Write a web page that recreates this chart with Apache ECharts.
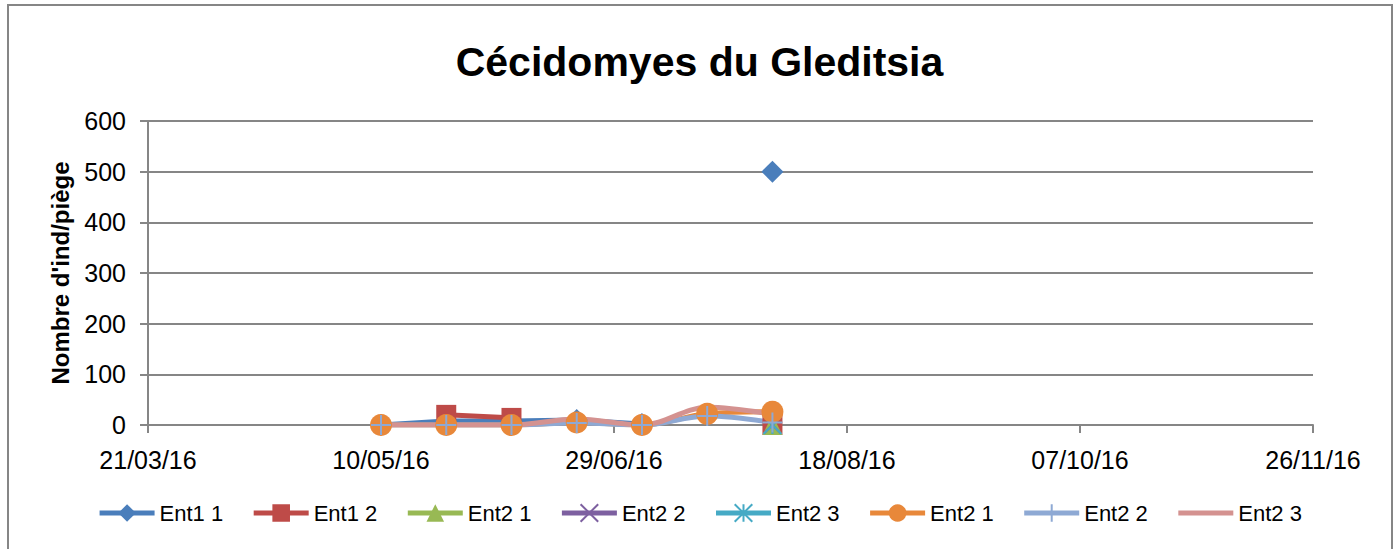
<!DOCTYPE html>
<html><head><meta charset="utf-8">
<script src="https://cdn.jsdelivr.net/npm/echarts@6/dist/echarts.min.js"></script>
<style>html,body{margin:0;padding:0;background:#fff}#c{width:1399px;height:549px}</style>
</head><body><div id="c"></div>
<script>
// ---- data ----
const title = 'Cécidomyes du Gleditsia';
const yAxisName = "Nombre d'ind/piège";
const axisStart = '21/03/16';
const axisEnd = '26/11/16';
const dates = ['10/05/16','24/05/16','07/06/16','21/06/16','05/07/16','19/07/16','02/08/16'];
const seriesNames = ['Ent1 1','Ent1 2','Ent2 1','Ent2 2','Ent2 3','Ent2 1','Ent2 2','Ent2 3'];
const ent1_1 = [0, 8, 8, 10, 2, null, 500];
const ent1_2 = [null, 20, 14, null, null, null, 0];
const ent2_1a = [null, null, null, null, null, null, 0];
const ent2_2a = [null, null, null, null, null, null, 0];
const ent2_3a = [null, null, null, null, null, null, 0];
const ent2_1b = [0, 0, 0, 5, 0, 22, 26];
const ent2_2b = [0, 0, 0, 4, 0, 18, 5];
const ent2_3b = [0, 0, 0, 12, 0, 35, 21];
const yTicks = [0, 100, 200, 300, 400, 500, 600];

// ---- helpers ----
function parseD(s){const [d,m,y]=s.split('/').map(Number);return Date.UTC(2000+y,m-1,d);}
const DAY = 86400000;
const base = parseD(axisStart);
const off = s => Math.round((parseD(s)-base)/DAY);
function fmt(v){const d=new Date(base+v*DAY);const p=n=>String(n).padStart(2,'0');return p(d.getUTCDate())+'/'+p(d.getUTCMonth()+1)+'/'+p(d.getUTCFullYear()%100);}
const xs = dates.map(off);
const pts = arr => arr.map((v,i)=>[xs[i], v]);

const colors = ['#4A7EBB','#BE4B48','#98B954','#7D60A0','#46AAC5','#E8883A','#8EA9D4','#D49290'];
const symbols = ['diamond','rect','triangle',
  'path://M0,0L10,10M0,10L10,0',
  'path://M5,0L5,10M0,0L10,10M0,10L10,0',
  'circle',
  'path://M5,0L5,10M0,5L10,5',
  'circle'];
const sizes = [22, 20, 20, 16, 18, 22, 20, 1];
const stroked = [false,false,false,true,true,false,true,false];
const noMarker = [false,false,false,false,false,false,false,true];
const smooth = [false,false,false,false,false,0.35,0.35,0.35];
const allData = [ent1_1, ent1_2, ent2_1a, ent2_2a, ent2_3a, ent2_1b, ent2_2b, ent2_3b];

const series = allData.map((arr,i)=>({
  name: seriesNames[i] + (i>=5 ? '\u200B' : ''),
  type:'line',
  data: pts(arr),
  symbol: symbols[i],
  symbolSize: sizes[i],
  showSymbol: !noMarker[i],
  smooth: smooth[i],
  connectNulls:false,
  lineStyle:{width:5, color:colors[i]},
  itemStyle: noMarker[i] ? {color:colors[i], opacity:0}
    : stroked[i] ? {color:'rgba(0,0,0,0)', borderColor:colors[i], borderWidth:2} : {color:colors[i]},
  emphasis:{disabled:true},
  animation:false
}));

const font = 'Liberation Sans';
const chart = echarts.init(document.getElementById('c'), null, {renderer:'svg'});
chart.setOption({
  backgroundColor:'#fff',
  title:{text:title, left:'center', top:36, textStyle:{fontFamily:font, fontSize:41, fontWeight:'bold', color:'#000'}},
  grid:{left:148, right:86, top:121, bottom:124, containLabel:false},
  legend:{
    top:497, left:'center', itemWidth:55, itemHeight:22, itemGap:28,
    textStyle:{fontFamily:font, fontSize:22, color:'#000'},
    lineStyle:{width:5},
    data: series.map((s,i)=> noMarker[i] ? {name:s.name, itemStyle:{opacity:0}} : s.name),
    formatter: n => n.replace('\u200B','')
  },
  xAxis:{
    type:'value', min:0, max:off(axisEnd), interval:50,
    axisLine:{show:true, lineStyle:{color:'#868686', width:2}},
    axisTick:{show:true, length:8, lineStyle:{color:'#868686', width:2}},
    splitLine:{show:false},
    axisLabel:{formatter:fmt, fontFamily:font, fontSize:25, color:'#000', margin:22}
  },
  yAxis:{
    type:'value', min:yTicks[0], max:yTicks[yTicks.length-1], interval:100,
    name:yAxisName, nameLocation:'middle', nameGap:76,
    nameTextStyle:{fontFamily:font, fontSize:24, fontWeight:'bold', color:'#000'},
    axisLine:{show:true, lineStyle:{color:'#868686', width:2}},
    axisTick:{show:true, length:8, lineStyle:{color:'#868686', width:2}},
    splitLine:{show:true, lineStyle:{color:'#868686', width:2}},
    axisLabel:{fontFamily:font, fontSize:25, color:'#000', margin:22}
  },
  graphic:[{type:'rect', shape:{x:8, y:5, width:1384, height:560}, style:{fill:'none', stroke:'#868686', lineWidth:2}, silent:true, z:-1}],
  series
});
</script></body></html>
